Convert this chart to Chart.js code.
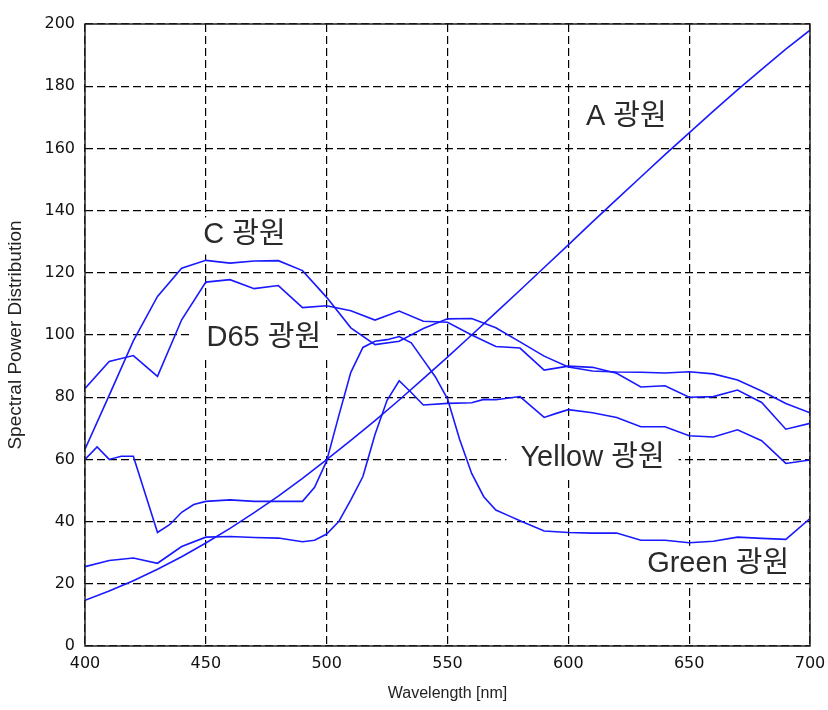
<!DOCTYPE html>
<html>
<head>
<meta charset="utf-8">
<script src="https://cdn.jsdelivr.net/npm/chart.js@4"></script>
<style>
  html, body { margin: 0; padding: 0; background: #fff; }
  #wrap { width: 828px; height: 710px; }
</style>
</head>
<body>
<div id="wrap"><canvas id="myChart" width="828" height="710"></canvas></div>
<script>
// wavelengths (nm) and values
const wl10 = [400, 410, 420, 430, 440, 450, 460, 470, 480, 490, 500, 510, 520, 530, 540, 550,
  560, 570, 580, 590, 600, 610, 620, 630, 640, 650, 660, 670, 680, 690, 700];

const valA = [14.7, 17.7, 21.0, 24.7, 28.7, 33.1, 37.8, 42.9, 48.2, 53.9, 59.9, 66.1, 72.5, 79.1, 86.0, 92.9,
  100.0, 107.2, 114.4, 121.7, 129.0, 136.4, 143.6, 150.8, 158.0, 165.0, 172.0, 178.8, 185.4, 191.9, 198.0];

const valC = [63.3, 80.6, 98.1, 112.4, 121.5, 124.0, 123.1, 123.8, 123.9, 120.7, 112.1, 102.3, 96.9, 98.0, 102.1, 105.2,
  105.3, 102.3, 97.8, 93.2, 89.7, 88.4, 88.1, 88.0, 87.8, 88.2, 87.5, 85.5, 82.0, 78.0, 75.0];

const valD65 = [82.8, 91.5, 93.4, 86.7, 104.9, 117.0, 117.8, 114.9, 115.9, 108.8, 109.4, 107.8, 104.8, 107.7, 104.4, 104.1,
  100.0, 96.3, 95.8, 88.7, 90.0, 89.6, 87.7, 83.3, 83.7, 80.0, 80.2, 82.3, 78.3, 69.7, 71.6];

const wlGreen = [400, 405, 410, 415, 420, 430, 435, 440, 445, 450, 460, 470, 480, 490, 495, 500, 505, 510, 515, 520,
  525, 530, 535, 540, 545, 550, 555, 560, 565, 570, 575, 580, 590, 600, 610, 620, 630, 640, 650, 660, 670, 680, 690, 700];
const valGreen = [60, 64, 60, 61, 61, 36.5, 39, 43, 45.5, 46.5, 47, 46.5, 46.5, 46.5, 51, 59.5, 74, 88, 96, 98,
  98.5, 99.5, 97.5, 92, 86.5, 79.5, 66.5, 55.5, 48, 43.7, 42, 40.3, 37, 36.5, 36.3, 36.3, 34, 34, 33.2, 33.7, 35, 34.6, 34.3, 41];

const wlYellow = [400, 410, 420, 430, 440, 450, 460, 470, 480, 490, 495, 500, 505, 510, 515, 520, 525, 530, 535, 540,
  550, 560, 565, 570, 580, 590, 595, 600, 610, 620, 630, 640, 650, 660, 670, 680, 690, 700];
const valYellow = [25.5, 27.5, 28.3, 26.6, 32, 35, 35.2, 34.9, 34.7, 33.5, 34, 36, 40, 47, 54.5, 68, 79, 85.3, 81.5, 77.5,
  78, 78.2, 79.3, 79.2, 80.2, 73.5, 74.8, 76, 75, 73.5, 70.5, 70.5, 67.6, 67.2, 69.5, 66, 58.7, 59.8];

// curve names placed in data units
const labelText = ['A 광원', 'C 광원', 'D65 광원', 'Yellow 광원', 'Green 광원'];
const labelX = [624, 466, 474, 610, 662];
const labelY = [170, 132, 99, 60.4, 26.4];

const xTicks = [400, 450, 500, 550, 600, 650, 700];

function pts(xs, ys) {
  return xs.map((x, i) => ({x: x, y: ys[i]}));
}

const lineColor = 'rgb(25,25,255)';
function series(name, xs, ys) {
  return {
    label: name,
    data: pts(xs, ys),
    borderColor: lineColor,
    borderWidth: 1.6,
    pointRadius: 0,
    tension: 0,
    fill: false
  };
}

// names sit on white boxes that hide the grid, then the frame goes round the plot
const frameAndLabels = {
  id: 'frameAndLabels',
  beforeDatasetsDraw(chart) {
    const {ctx, scales} = chart;
    ctx.save();
    ctx.font = "29px 'Liberation Sans', 'Noto Sans CJK KR', sans-serif";
    ctx.textAlign = 'center';
    ctx.textBaseline = 'middle';
    labelText.forEach((t, i) => {
      const px = scales.x.getPixelForValue(labelX[i]);
      const py = scales.y.getPixelForValue(labelY[i]);
      const w = ctx.measureText(t).width;
      ctx.fillStyle = '#fff';
      ctx.fillRect(px - w / 2 - 14, py - 18, w + 28, 37);
      ctx.fillStyle = '#2a2a2a';
      ctx.fillText(t, px, py);
    });
    ctx.restore();
  },
  afterDatasetsDraw(chart) {
    const {ctx, chartArea} = chart;
    ctx.save();
    ctx.strokeStyle = '#222';
    ctx.lineWidth = 1.5;
    ctx.setLineDash([]);
    ctx.strokeRect(chartArea.left, chartArea.top, chartArea.right - chartArea.left, chartArea.bottom - chartArea.top);
    ctx.restore();
  }
};

const tickFont = {family: "'DejaVu Sans', sans-serif", size: 16};

const ctx = document.getElementById('myChart');
const myChart = new Chart(ctx, {
  type: 'line',
  data: {
    datasets: [
      series('A', wl10, valA),
      series('C', wl10, valC),
      series('D65', wl10, valD65),
      series('Green', wlGreen, valGreen),
      series('Yellow', wlYellow, valYellow)
    ]
  },
  options: {
    responsive: false,
    animation: false,
    layout: {padding: {left: 0, right: 18, top: 24, bottom: 0}},
    plugins: {legend: {display: false}, tooltip: {enabled: false}},
    scales: {
      x: {
        type: 'linear',
        min: 400,
        max: 700,
        afterFit(scale) {
          scale.height = 64;
          scale.paddingLeft = 0;
          scale.paddingRight = 0;
        },
        afterBuildTicks(scale) { scale.ticks = xTicks.map(v => ({value: v})); },
        grid: {color: '#000', lineWidth: 1.2, drawTicks: false},
        border: {display: false, dash: [8, 4]},
        ticks: {font: tickFont, color: '#111', padding: 8, maxRotation: 0},
        title: {display: true, text: 'Wavelength [nm]', color: '#222',
          font: {family: "'Liberation Sans', sans-serif", size: 16},
          padding: {top: 0, bottom: 7}}
      },
      y: {
        min: 0,
        max: 200,
        afterFit(scale) { scale.width = 85; },
        grid: {color: '#000', lineWidth: 1.2, drawTicks: false},
        border: {display: false, dash: [8, 4]},
        ticks: {stepSize: 20, font: tickFont, color: '#111', padding: 10},
        title: {display: true, text: 'Spectral Power Distribution', color: '#222',
          font: {family: "'Liberation Sans', sans-serif", size: 19},
          padding: {top: 4, bottom: 0}}
      }
    }
  },
  plugins: [frameAndLabels]
});
</script>
</body>
</html>
